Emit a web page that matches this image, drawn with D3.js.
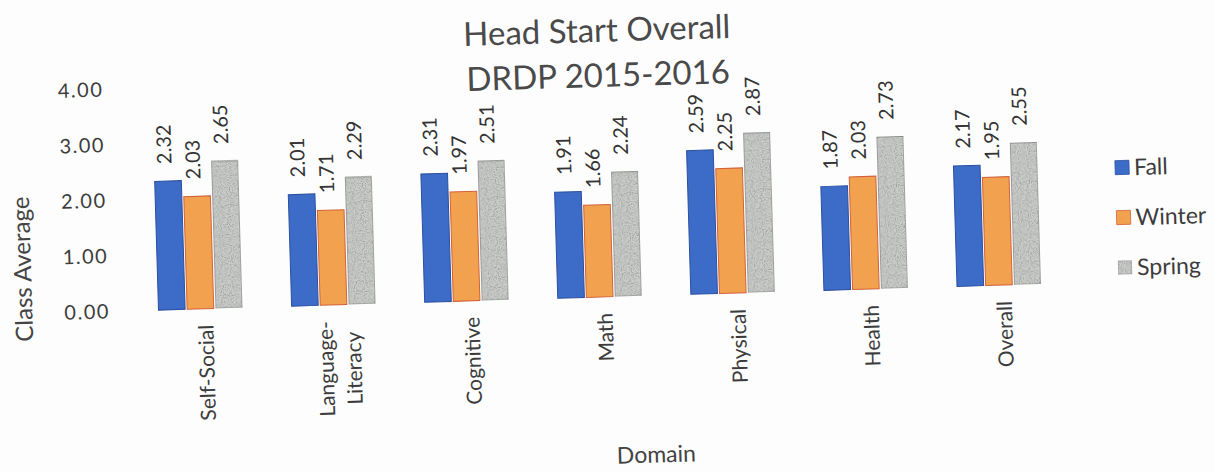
<!DOCTYPE html>
<html>
<head>
<meta charset="utf-8">
<script src="https://cdn.jsdelivr.net/npm/d3@7"></script>
<style>
  html, body { margin: 0; padding: 0; background: #fdfdfd; }
  svg { display: block; }
  text { font-family: Lato, "Open Sans", sans-serif; }
</style>
</head>
<body>
<svg id="chart" width="1214" height="472"></svg>
<script>
// ---- data ----
const categories = ["Self-Social", "Language-Literacy", "Cognitive", "Math", "Physical", "Health", "Overall"];
const categoryLines = [["Self-Social"], ["Language-", "Literacy"], ["Cognitive"], ["Math"], ["Physical"], ["Health"], ["Overall"]];
const seriesNames = ["Fall", "Winter", "Spring"];
const fall   = [2.32, 2.01, 2.31, 1.91, 2.59, 1.87, 2.17];
const winter = [2.03, 1.71, 1.97, 1.66, 2.25, 2.03, 1.95];
const spring = [2.65, 2.29, 2.51, 2.24, 2.87, 2.73, 2.55];
const yTicks = [0, 1, 2, 3, 4];
const titleLines = ["Head Start Overall", "DRDP 2015-2016"];

const seriesValues = [fall, winter, spring];
const colors = ["#3d6cc8", "#f2a24e", "#cbcecb"];
const strokes = ["#2a4f9e", "#d2603a", "#858985"];
const grainy = [false, false, true];

const svg = d3.select("#chart");
const defs = svg.append("defs");
const f = defs.append("filter").attr("id", "grain").attr("x", 0).attr("y", 0).attr("width", 1).attr("height", 1);
f.append("feTurbulence").attr("type", "fractalNoise").attr("baseFrequency", 0.9).attr("numOctaves", 1).attr("seed", 4).attr("result", "noise");
f.append("feColorMatrix").attr("in", "noise").attr("type", "matrix")
  .attr("values", "0 0 0 0 0.3  0 0 0 0 0.3  0 0 0 0 0.3  0 0 0 3 -1.3").attr("result", "specks");
f.append("feComposite").attr("in", "specks").attr("in2", "SourceGraphic").attr("operator", "in").attr("result", "clipped");
const fm = f.append("feMerge");
fm.append("feMergeNode").attr("in", "SourceGraphic");
fm.append("feMergeNode").attr("in", "clipped");

// whole chart slightly rotated like the scanned page
const g = svg.append("g").attr("transform", "rotate(-1.7, 600, 240)");

const y = d3.scaleLinear().domain([0, 4]).range([297, 75]);
const x0 = d3.scaleBand().domain(categories).range([132, 1064]).paddingInner(0.37).paddingOuter(0.185);
const x1 = d3.scaleBand().domain(seriesNames).range([0, x0.bandwidth()]).paddingInner(0.07);

// title
g.append("g").selectAll("text").data(titleLines).join("text")
  .attr("x", 603).attr("y", (d, i) => 42 + i * 45)
  .attr("text-anchor", "middle").attr("font-size", 33).attr("fill", "#4a4a4a")
  .text(d => d);

// y axis labels
const yAxis = d3.axisLeft(y).tickValues(yTicks).tickFormat(d3.format(".2f")).tickSize(0).tickPadding(0);
const ya = g.append("g").attr("transform", "translate(108,0)").call(yAxis);
ya.select(".domain").remove();
ya.selectAll("text").attr("font-size", 20).attr("letter-spacing", "1.5px").attr("fill", "#3c3c3c").attr("font-family", "Lato, sans-serif");

// y title
g.append("text").attr("transform", "translate(22,252) rotate(-90)")
  .attr("text-anchor", "middle").attr("dy", "0.35em").attr("font-size", 24).attr("fill", "#444")
  .text("Class Average");

// bars
const groups = g.append("g").selectAll("g").data(categories).join("g")
  .attr("transform", d => `translate(${x0(d)},0)`);

groups.each(function(cat, ci) {
  const gg = d3.select(this);
  seriesNames.forEach((s, si) => {
    const v = seriesValues[si][ci];
    gg.append("rect")
      .attr("x", x1(s)).attr("width", x1.bandwidth())
      .attr("y", y(v)).attr("height", y(0) - y(v))
      .attr("fill", colors[si]).attr("stroke", strokes[si]).attr("stroke-width", 1)
      .attr("filter", grainy[si] ? "url(#grain)" : null);
    gg.append("text")
      .attr("transform", `translate(${x1(s) + x1.bandwidth() / 2 - 3},${y(v) - 17}) rotate(-90)`)
      .attr("dy", "0.35em").attr("text-anchor", "start")
      .attr("font-size", 20).attr("fill", "#333")
      .text(v.toFixed(2));
  });
});

// category labels
const catG = g.append("g").selectAll("g").data(categories).join("g")
  .attr("transform", d => `translate(${x0(d) + x0.bandwidth() / 2 + 5},313) rotate(-90)`);
catG.each(function(cat, ci) {
  const lines = categoryLines[ci];
  const gg = d3.select(this);
  const n = lines.length;
  if (n === 1) {
    gg.append("text").attr("text-anchor", "end").attr("dy", "0.35em")
      .attr("font-size", 21).attr("fill", "#3c3c3c").text(lines[0]);
  } else {
    // multi-line: block top-aligned, lines centred on the longest one
    const tmp = gg.append("text").attr("font-size", 21).text(lines[0]);
    const w = tmp.node().getComputedTextLength();
    tmp.remove();
    lines.forEach((ln, li) => {
      gg.append("text").attr("text-anchor", "middle")
        .attr("x", -w / 2).attr("y", (li - (n - 1) / 2) * 28)
        .attr("dy", "0.35em").attr("font-size", 21).attr("fill", "#3c3c3c").text(ln);
    });
  }
});

// x title
g.append("text").attr("x", 650).attr("y", 456).attr("text-anchor", "middle").attr("dy", "0.35em")
  .attr("font-size", 23).attr("fill", "#444").text("Domain");

// legend
const legendY = [183, 233, 283];
const leg = g.append("g").selectAll("g").data(seriesNames).join("g")
  .attr("transform", (d, i) => `translate(1117,${legendY[i]})`);
leg.append("rect").attr("x", 0).attr("y", -7).attr("width", 14).attr("height", 14)
  .attr("fill", (d, i) => colors[i]).attr("stroke", (d, i) => strokes[i]).attr("stroke-width", 0.8)
  .attr("filter", (d, i) => grainy[i] ? "url(#grain)" : null);
leg.append("text").attr("x", 19).attr("dy", "0.35em").attr("font-size", 23).attr("fill", "#3c3c3c").text(d => d);
</script>
</body>
</html>
